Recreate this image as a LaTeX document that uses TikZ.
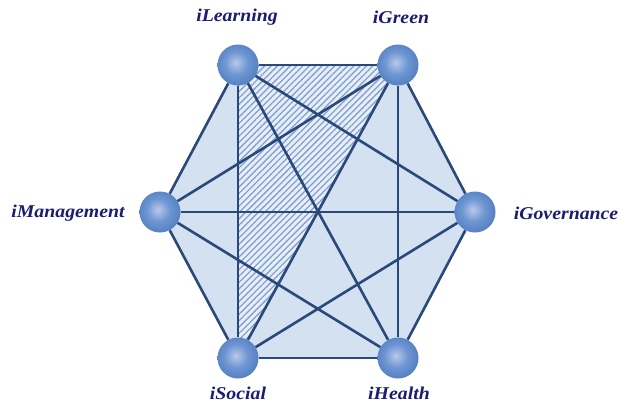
\documentclass[tikz,border=0pt]{standalone}
\usepackage{fontspec}
\newfontfamily\lblfont[FakeStretch=1.1]{Liberation Serif}
\usetikzlibrary{patterns.meta}
\definecolor{edgeblue}{RGB}{42,72,122}
\definecolor{hexfill}{RGB}{212,225,240}
\definecolor{hatchblue}{RGB}{130,162,205}
\definecolor{ballhi}{RGB}{185,200,235}
\definecolor{ballmid}{RGB}{110,150,210}
\definecolor{ballblue}{RGB}{62,108,180}
\definecolor{lblnavy}{RGB}{28,28,112}
\pgfdeclareradialshading{sphere}{\pgfpoint{-3bp}{3bp}}{%
  color(0bp)=(ballhi); color(14bp)=(ballmid); color(38bp)=(ballblue); color(60bp)=(ballblue!80!black)}
\tikzset{
  ball/.style={circle, minimum size=41pt, inner sep=0pt, shading=sphere},
  lbl/.style={text=lblnavy, font=\lblfont\bfseries\itshape\fontsize{18}{20}\selectfont},
  link/.style={edgeblue, line width=2.6pt},
}
\begin{document}
\begin{tikzpicture}[x=1pt,y=-1pt]
	\useasboundingbox[fill=white] (0,0) rectangle (631,407);
	% centres of the six spheres
	\coordinate (cL) at (238,65);
	\coordinate (cG) at (398,65);
	\coordinate (cV) at (475,212);
	\coordinate (cH) at (398,358);
	\coordinate (cS) at (238,358);
	\coordinate (cM) at (160,212);
	\fill[hexfill] (cL) -- (cG) -- (cV) -- (cH) -- (cS) -- (cM) -- cycle;
	\fill[white!45!hexfill] (cL) -- (cG) -- (cS) -- cycle;
	\fill[pattern={Lines[angle=45, distance=4.5pt, line width=1.3pt]}, pattern color=hatchblue] (cL) -- (cG) -- (cS) -- cycle;
	\foreach \n in {L,G,V,H,S,M}
		\node[ball] (\n) at (c\n) {};
	\foreach \a/\b in {L/G,G/V,V/H,H/S,S/M,M/L,L/V,L/H,L/S,G/H,G/S,G/M,V/S,V/M,H/M}
		\draw[link] (\a) -- (\b);
	\node[lbl] (tL) at (237,17) {iLearning};
	\node[lbl] (tG) at (401,17) {iGreen};
	\node[lbl] (tM) at (68,213) {iManagement};
	\node[lbl] (tV) at (566,213) {iGovernance};
	\node[lbl] (tS) at (238,393) {iSocial};
	\node[lbl] (tH) at (399,393) {iHealth};
\end{tikzpicture}
\end{document}
